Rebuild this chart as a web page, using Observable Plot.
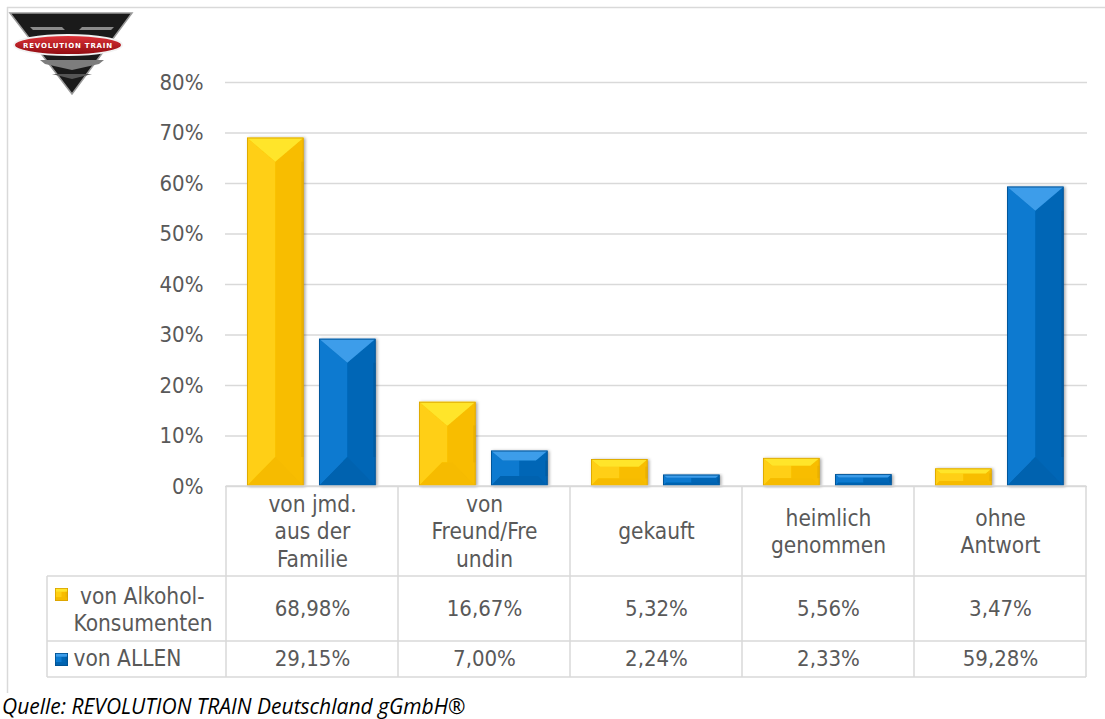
<!DOCTYPE html>
<html><head><meta charset="utf-8">
<script src="https://cdn.jsdelivr.net/npm/d3@7"></script>
<script src="https://cdn.jsdelivr.net/npm/@observablehq/plot@0.6"></script>
<style>
body{margin:0;background:#fff;}
#wrap{position:relative;width:1105px;height:719px;overflow:hidden;background:#fff;}
#caption{position:absolute;left:2px;top:692px;font:italic 21px "Open Sans",sans-serif;color:#000;white-space:nowrap;}
</style></head><body>
<div id="wrap"><div id="chart"></div><div id="caption">Quelle: REVOLUTION TRAIN Deutschland gGmbH®</div></div>
<script>
const categories = ["von jmd.\naus der\nFamilie", "von\nFreund/Fre\nundin", "gekauft", "heimlich\ngenommen", "ohne\nAntwort"];
const seriesNames = [" von Alkohol-\nKonsumenten", "von ALLEN"];
const alkoholValues = [0.6898, 0.1667, 0.0532, 0.0556, 0.0347];
const allenValues = [0.2915, 0.0700, 0.0224, 0.0233, 0.5928];
const yTicks = [0, 0.1, 0.2, 0.3, 0.4, 0.5, 0.6, 0.7, 0.8];

const de = d3.formatLocale({decimal: ",", thousands: ".", grouping: [3], currency: ["", "€"]});
const fmtVal = de.format(".2%");
const fmtTick = de.format(".0%");

const alkRows = categories.map((c, i) => ({cat: c, value: alkoholValues[i]}));
const allRows = categories.map((c, i) => ({cat: c, value: allenValues[i]}));

const GRID = "#d9d9d9";
const TXT = "#595959";
const tableFont = '"DejaVu Sans Condensed","DejaVu Sans",sans-serif';
const tickFont = '"Liberation Sans Narrow","DejaVu Sans Condensed",sans-serif';

const plot = Plot.plot({
  width: 1105, height: 690,
  marginTop: 82, marginBottom: 204, marginLeft: 225, marginRight: 18,
  style: {background: "transparent", overflow: "visible", color: TXT},
  x: {domain: categories, padding: 0, axis: null},
  y: {domain: [0, 0.8], axis: null},
  marks: [
    Plot.gridY(yTicks, {stroke: GRID, strokeOpacity: 1, strokeWidth: 1.5}),
    Plot.text(yTicks, {y: d => d, text: d => fmtTick(d), frameAnchor: "left", textAnchor: "end", dx: -22, fontSize: 22, fontFamily: tickFont, fill: TXT}),
    Plot.barY(alkRows, {x: "cat", y: "value", insetLeft: 21, insetRight: 94.4, fill: "#FFC000"}),
    Plot.barY(allRows, {x: "cat", y: "value", insetLeft: 93, insetRight: 22.4, fill: "#0070C0"}),
    Plot.text(categories, {x: d => d, text: d => d, frameAnchor: "bottom", dy: 44, lineAnchor: "middle", lineHeight: 1.22, fontSize: 22.5, fontFamily: tableFont, fill: TXT}),
    Plot.text(alkRows, {x: "cat", text: d => fmtVal(d.value), frameAnchor: "bottom", dy: 122, lineAnchor: "middle", fontSize: 22, fontFamily: tableFont, fill: TXT}),
    Plot.text(allRows, {x: "cat", text: d => fmtVal(d.value), frameAnchor: "bottom", dy: 172, lineAnchor: "middle", fontSize: 22, fontFamily: tableFont, fill: TXT}),
    Plot.text([seriesNames[0]], {text: d => d, frameAnchor: "bottom-left", dx: -152, dy: 122, textAnchor: "start", lineAnchor: "middle", lineHeight: 1.22, fontSize: 22.5, fontFamily: tableFont, fill: TXT}),
    Plot.text([seriesNames[1]], {text: d => d, frameAnchor: "bottom-left", dx: -152, dy: 172, textAnchor: "start", lineAnchor: "middle", fontSize: 22.5, fontFamily: tableFont, fill: TXT})
  ]
});
document.getElementById("chart").appendChild(plot);

const svg = d3.select(plot);
const sx = plot.scale("x"), sy = plot.scale("y");
const y0 = sy.apply(0);
const bw = sx.bandwidth;

// defs
const defs = svg.insert("defs", ":first-child");
const f = defs.append("filter").attr("id", "barShadow").attr("x", "-30%").attr("y", "-10%").attr("width", "160%").attr("height", "120%");
f.append("feDropShadow").attr("dx", 1.5).attr("dy", 0.5).attr("stdDeviation", 1.6).attr("flood-color", "#000").attr("flood-opacity", 0.35);

const YEL = {L: "#FFCF12", R: "#F8BD00", T: "#FFE52A", B: "#F5BA00", S: "#D9A200"};
const BLU = {L: "#0B7AD0", R: "#0066B6", T: "#3C9DEA", B: "#0062AE", S: "#004F8E"};
const pts = a => a.map(p => p.join(",")).join(" ");
function bevel(g, x, y, w, h, c, shadow) {
  const grp = g.append("g");
  if (shadow) grp.attr("filter", "url(#barShadow)");
  const hw = w / 2;
  const dT = Math.min(24, h * 0.28), iT = dT * hw / 24;
  const dB = Math.min(29, h * 0.28), iB = dB * hw / 29;
  grp.append("rect").attr("x", x).attr("y", y).attr("width", w).attr("height", h).attr("fill", c.R);
  grp.append("polygon").attr("points", pts([[x, y], [x + iT, y + dT], [x + hw, y + dT], [x + hw, y + h - dB], [x + iB, y + h - dB], [x, y + h]])).attr("fill", c.L);
  grp.append("polygon").attr("points", pts([[x, y], [x + w, y], [x + w - iT, y + dT], [x + iT, y + dT]])).attr("fill", c.T);
  grp.append("polygon").attr("points", pts([[x, y + h], [x + w, y + h], [x + w - iB, y + h - dB], [x + iB, y + h - dB]])).attr("fill", c.B).attr("opacity", 0.9);
  grp.append("rect").attr("x", x + w - 2.5).attr("y", y + dT).attr("width", 2.5).attr("height", Math.max(0, h - dT - dB)).attr("fill", c.S).attr("opacity", 0.35);
  grp.append("rect").attr("x", x + 0.4).attr("y", y + 0.4).attr("width", w - 0.8).attr("height", h - 0.8).attr("fill", "none").attr("stroke", c.S).attr("stroke-width", 0.8);
}
const barGroups = svg.selectAll('g[aria-label="bar"]').nodes();
[[barGroups[0], YEL], [barGroups[1], BLU]].forEach(([node, col]) => {
  const g = d3.select(node);
  const layer = svg.append("g");
  g.selectAll("rect").each(function() {
    const r = d3.select(this);
    bevel(layer, +r.attr("x"), +r.attr("y"), +r.attr("width"), +r.attr("height"), col, true);
  });
  g.attr("opacity", 0);
});

// table grid
const tbl = svg.append("g").attr("stroke", GRID).attr("stroke-width", 1.5).attr("fill", "none");
const edges = categories.map(c => sx.apply(c)).concat([sx.apply(categories[categories.length - 1]) + bw]);
const xL = 47, xR = edges[edges.length - 1];
const rowY = [y0 + 90, y0 + 155, y0 + 191];
rowY.forEach(y => tbl.append("line").attr("x1", xL).attr("x2", xR).attr("y1", y).attr("y2", y));
tbl.append("line").attr("x1", edges[0]).attr("x2", xR).attr("y1", y0).attr("y2", y0);
edges.forEach(x => tbl.append("line").attr("x1", x).attr("x2", x).attr("y1", y0).attr("y2", rowY[2]));
tbl.append("line").attr("x1", xL).attr("x2", xL).attr("y1", rowY[0]).attr("y2", rowY[2]);

// legend swatches
const sw = svg.append("g");
bevel(sw, 55, 588, 13, 13, YEL, false);
bevel(sw, 55, 653, 13, 13, BLU, false);

// outer frame
svg.append("line").attr("x1", 7).attr("x2", 1105).attr("y1", 7.5).attr("y2", 7.5).attr("stroke", GRID).attr("stroke-width", 1.5);
svg.append("line").attr("x1", 7.5).attr("x2", 7.5).attr("y1", 7).attr("y2", 693).attr("stroke", GRID).attr("stroke-width", 1.5);

// logo
const lg = svg.append("g");
const lgGrad = defs.append("linearGradient").attr("id", "lgRed").attr("x1", 0).attr("y1", 0).attr("x2", 0).attr("y2", 1);
lgGrad.append("stop").attr("offset", "0%").attr("stop-color", "#e0343a");
lgGrad.append("stop").attr("offset", "100%").attr("stop-color", "#8e0b10");
lg.append("polygon").attr("points", pts([[10, 13], [132, 13], [72, 94]])).attr("fill", "#1a1a1a").attr("stroke", "#9a9a9a").attr("stroke-width", 1.5);
lg.append("polygon").attr("points", pts([[30, 27], [62, 27], [65, 30], [79, 30], [82, 27], [114, 27], [111, 30], [33, 30]])).attr("fill", "#8a8a8a");
lg.append("polygon").attr("points", pts([[40, 60], [104, 60], [99, 64], [72, 70], [45, 64]])).attr("fill", "#7d7d7d");
lg.append("polygon").attr("points", pts([[52, 74], [92, 74], [72, 79]])).attr("fill", "#555");
lg.append("ellipse").attr("cx", 68).attr("cy", 45).attr("rx", 54).attr("ry", 10).attr("fill", "url(#lgRed)").attr("stroke", "#f2f2f2").attr("stroke-width", 1.8);
lg.append("text").attr("x", 68).attr("y", 47.5).attr("text-anchor", "middle").attr("fill", "#fff").attr("font-size", 7).attr("font-weight", "bold").attr("font-family", "DejaVu Sans, sans-serif").attr("letter-spacing", 0.8).text("REVOLUTION TRAIN");
</script>
</body></html>
